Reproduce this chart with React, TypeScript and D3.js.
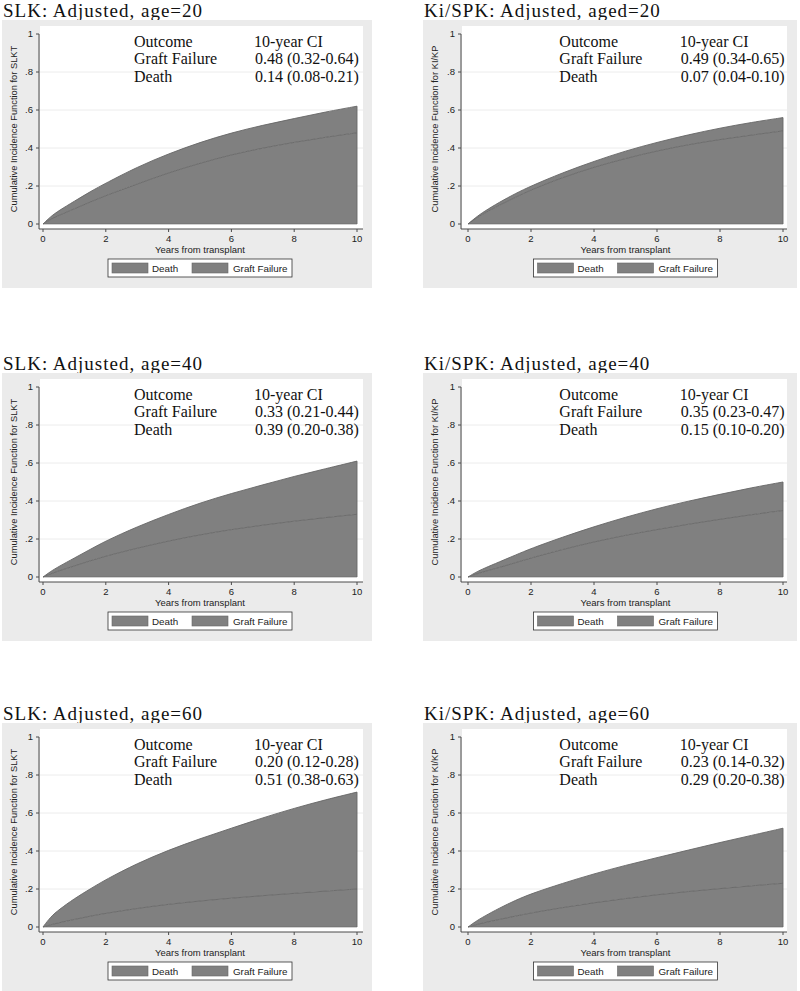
import React from "react";
import * as d3 from "d3";

// ---- data ----
const years = [0, 0.25, 0.5, 1, 1.5, 2, 3, 4, 5, 6, 7, 8, 9, 10];

const titles = [
  "SLK: Adjusted, age=20",
  "Ki/SPK: Adjusted, aged=20",
  "SLK: Adjusted, age=40",
  "Ki/SPK: Adjusted, age=40",
  "SLK: Adjusted, age=60",
  "Ki/SPK: Adjusted, age=60",
];

const yTitles = [
  "Cumulative Incidence Function for SLKT",
  "Cumulative Incidence Function for KI/KP",
];

// Graft failure cumulative incidence (bottom layer)
const gfSLK20 = [0, 0.025, 0.045, 0.08, 0.115, 0.15, 0.21, 0.27, 0.32, 0.365, 0.4, 0.43, 0.457, 0.48];
const gfKSPK20 = [0, 0.03, 0.055, 0.1, 0.14, 0.18, 0.245, 0.3, 0.345, 0.385, 0.418, 0.445, 0.468, 0.49];
const gfSLK40 = [0, 0.017, 0.032, 0.058, 0.085, 0.11, 0.152, 0.19, 0.222, 0.25, 0.273, 0.294, 0.313, 0.33];
const gfKSPK40 = [0, 0.015, 0.028, 0.05, 0.075, 0.1, 0.145, 0.185, 0.22, 0.25, 0.278, 0.304, 0.328, 0.35];
const gfSLK60 = [0, 0.012, 0.022, 0.04, 0.057, 0.072, 0.098, 0.12, 0.137, 0.152, 0.165, 0.177, 0.189, 0.2];
const gfKSPK60 = [0, 0.012, 0.022, 0.04, 0.057, 0.074, 0.102, 0.128, 0.15, 0.17, 0.187, 0.202, 0.217, 0.23];

// Death cumulative incidence (stacked on top)
const deathSLK20 = [0, 0.015, 0.025, 0.04, 0.055, 0.065, 0.09, 0.1, 0.11, 0.115, 0.12, 0.125, 0.133, 0.14];
const deathKSPK20 = [0, 0.005, 0.01, 0.015, 0.02, 0.02, 0.025, 0.03, 0.04, 0.045, 0.052, 0.06, 0.067, 0.07];
const deathSLK40 = [0, 0.013, 0.023, 0.042, 0.06, 0.08, 0.113, 0.14, 0.168, 0.19, 0.212, 0.236, 0.257, 0.28];
const deathKSPK40 = [0, 0.01, 0.017, 0.03, 0.04, 0.05, 0.065, 0.08, 0.095, 0.11, 0.122, 0.131, 0.142, 0.15];
const deathSLK60 = [0, 0.043, 0.068, 0.11, 0.143, 0.178, 0.237, 0.285, 0.328, 0.368, 0.41, 0.448, 0.481, 0.51];
const deathKSPK60 = [0, 0.018, 0.033, 0.06, 0.083, 0.101, 0.128, 0.152, 0.175, 0.195, 0.218, 0.243, 0.265, 0.29];

const gfSeries = [gfSLK20, gfKSPK20, gfSLK40, gfKSPK40, gfSLK60, gfKSPK60];
const deathSeries = [deathSLK20, deathKSPK20, deathSLK40, deathKSPK40, deathSLK60, deathKSPK60];

const tableHeader = ["Outcome", "10-year CI"];
const outcomeNames = ["Graft Failure", "Death"];
const gfCI = ["0.48 (0.32-0.64)", "0.49 (0.34-0.65)", "0.33 (0.21-0.44)", "0.35 (0.23-0.47)", "0.20 (0.12-0.28)", "0.23 (0.14-0.32)"];
const deathCI = ["0.14 (0.08-0.21)", "0.07 (0.04-0.10)", "0.39 (0.20-0.38)", "0.15 (0.10-0.20)", "0.51 (0.38-0.63)", "0.29 (0.20-0.38)"];

const yTicks = [0, 0.2, 0.4, 0.6, 0.8, 1];
const yTickLabels = ["0", ".2", ".4", ".6", ".8", "1"];
const xTicks = [0, 2, 4, 6, 8, 10];
const gridVals = [0.2, 0.4, 0.6, 0.8];
const legendLabels = ["Death", "Graft Failure"];
const xTitle = "Years from transplant";

// ---- layout ----
const W = 800;
const H = 991;
const rowTop = [20, 373, 723];
const cols = [
  { gx: 2, gw: 370, axisX: 39, x0: 43, x1: 357, plotR: 363 },
  { gx: 423, gw: 374, axisX: 461, x0: 468, x1: 783, plotR: 787 },
];

const SANS = "'Liberation Sans', Arial, sans-serif";
const SERIF = "'Liberation Serif', 'Times New Roman', serif";
const FILL = "#808080";
const EDGE = "#676767";
const AXIS = "#4a4a4a";

function Panel({ idx }: { idx: number }) {
  const c = cols[idx % 2];
  const G = rowTop[Math.floor(idx / 2)];
  const x = d3.scaleLinear().domain([0, 10]).range([c.x0, c.x1]);
  const y = d3.scaleLinear().domain([0, 1]).range([G + 204, G + 14]);
  const axisY = G + 209;

  const rows = years.map((t, i) => ({ t, gf: gfSeries[idx][i], death: deathSeries[idx][i] }));
  const stacked = d3.stack<any>().keys(["gf", "death"])(rows);

  const area = d3
    .area<any>()
    .x((d) => x(d.data.t))
    .y0((d) => y(d[0]))
    .y1((d) => y(d[1]))
    .curve(d3.curveBasis);
  const line = d3
    .line<any>()
    .x((d) => x(d.data.t))
    .y((d) => y(d[1]))
    .curve(d3.curveBasis);

  const xc = (c.x0 + c.x1) / 2;
  const lgL = xc - 92;
  const lgT = G + 239;

  return (
    <g>
      <text x={c.gx + 1} y={G - 3} fontFamily={SERIF} fontSize={19} letterSpacing={1} fill="#111">
        {titles[idx]}
      </text>
      <rect x={c.gx} y={G} width={c.gw} height={268} fill="#ebebeb" />
      <rect x={c.axisX + 1} y={G + 6} width={c.plotR - c.axisX - 1} height={axisY - G - 6} fill="#ffffff" />
      {gridVals.map((v) => (
        <line key={v} x1={c.axisX + 1} x2={c.plotR} y1={y(v)} y2={y(v)} stroke="#ececec" strokeWidth={1} />
      ))}
      {stacked.map((s, k) => (
        <path key={k} d={area(s) || ""} fill={FILL} stroke="none" />
      ))}
      {stacked.map((s, k) => (
        <path key={"l" + k} d={line(s) || ""} fill="none" stroke={EDGE} strokeWidth={0.9} />
      ))}
      <line x1={x(10)} x2={x(10)} y1={y(0)} y2={y(stacked[1][years.length - 1][1])} stroke={EDGE} strokeWidth={0.9} />
      <line x1={x(0)} x2={x(10)} y1={y(0)} y2={y(0)} stroke={EDGE} strokeWidth={0.6} />

      {/* y axis */}
      <line x1={c.axisX} x2={c.axisX} y1={y(1)} y2={axisY} stroke={AXIS} strokeWidth={1} />
      {yTicks.map((v, i) => (
        <g key={v}>
          <line x1={c.axisX - 3} x2={c.axisX} y1={y(v)} y2={y(v)} stroke={AXIS} strokeWidth={1} />
          <text x={c.axisX - 6} y={y(v) + 3.3} textAnchor="end" fontFamily={SANS} fontSize={9.5} fill="#222">
            {yTickLabels[i]}
          </text>
        </g>
      ))}
      <text
        transform={`translate(${c.gx + 15},${(y(0) + y(1)) / 2}) rotate(-90)`}
        textAnchor="middle"
        fontFamily={SANS}
        fontSize={9.3}
        fill="#222"
      >
        {yTitles[idx % 2]}
      </text>

      {/* x axis */}
      <line x1={c.axisX} x2={c.plotR} y1={axisY} y2={axisY} stroke={AXIS} strokeWidth={1} />
      {xTicks.map((v) => (
        <g key={v}>
          <line x1={x(v)} x2={x(v)} y1={axisY} y2={axisY + 3} stroke={AXIS} strokeWidth={1} />
          <text x={x(v)} y={G + 222} textAnchor="middle" fontFamily={SANS} fontSize={9.5} fill="#222">
            {v}
          </text>
        </g>
      ))}
      <text x={xc} y={G + 233} textAnchor="middle" fontFamily={SANS} fontSize={9.5} fill="#222">
        {xTitle}
      </text>

      {/* legend */}
      <rect x={lgL} y={lgT} width={184} height={18} fill="#ffffff" stroke="#333" strokeWidth={0.8} />
      {legendLabels.map((lab, i) => (
        <g key={lab}>
          <rect x={lgL + 4 + i * 80} y={lgT + 4} width={36} height={10} fill={FILL} stroke={EDGE} strokeWidth={0.6} />
          <text x={lgL + 44 + i * 81} y={lgT + 13} fontFamily={SANS} fontSize={9.8} fill="#222">
            {lab}
          </text>
        </g>
      ))}

      {/* CI table */}
      <g fontFamily={SERIF} fontSize={16} fill="#111">
        <text x={x(2.9)} y={y(0.93)}>{tableHeader[0]}</text>
        <text x={x(6.72)} y={y(0.93)}>{tableHeader[1]}</text>
        <text x={x(2.9)} y={y(0.84)}>{outcomeNames[0]}</text>
        <text x={x(6.75)} y={y(0.84)}>{gfCI[idx]}</text>
        <text x={x(2.9)} y={y(0.745)}>{outcomeNames[1]}</text>
        <text x={x(6.75)} y={y(0.745)}>{deathCI[idx]}</text>
      </g>
    </g>
  );
}

export default function App() {
  return (
    <div style={{ position: "absolute", left: 0, top: 0 }}>
      <svg width={W} height={H} style={{ display: "block", background: "#ffffff" }}>
        {titles.map((_, i) => (
          <Panel key={i} idx={i} />
        ))}
      </svg>
    </div>
  );
}
